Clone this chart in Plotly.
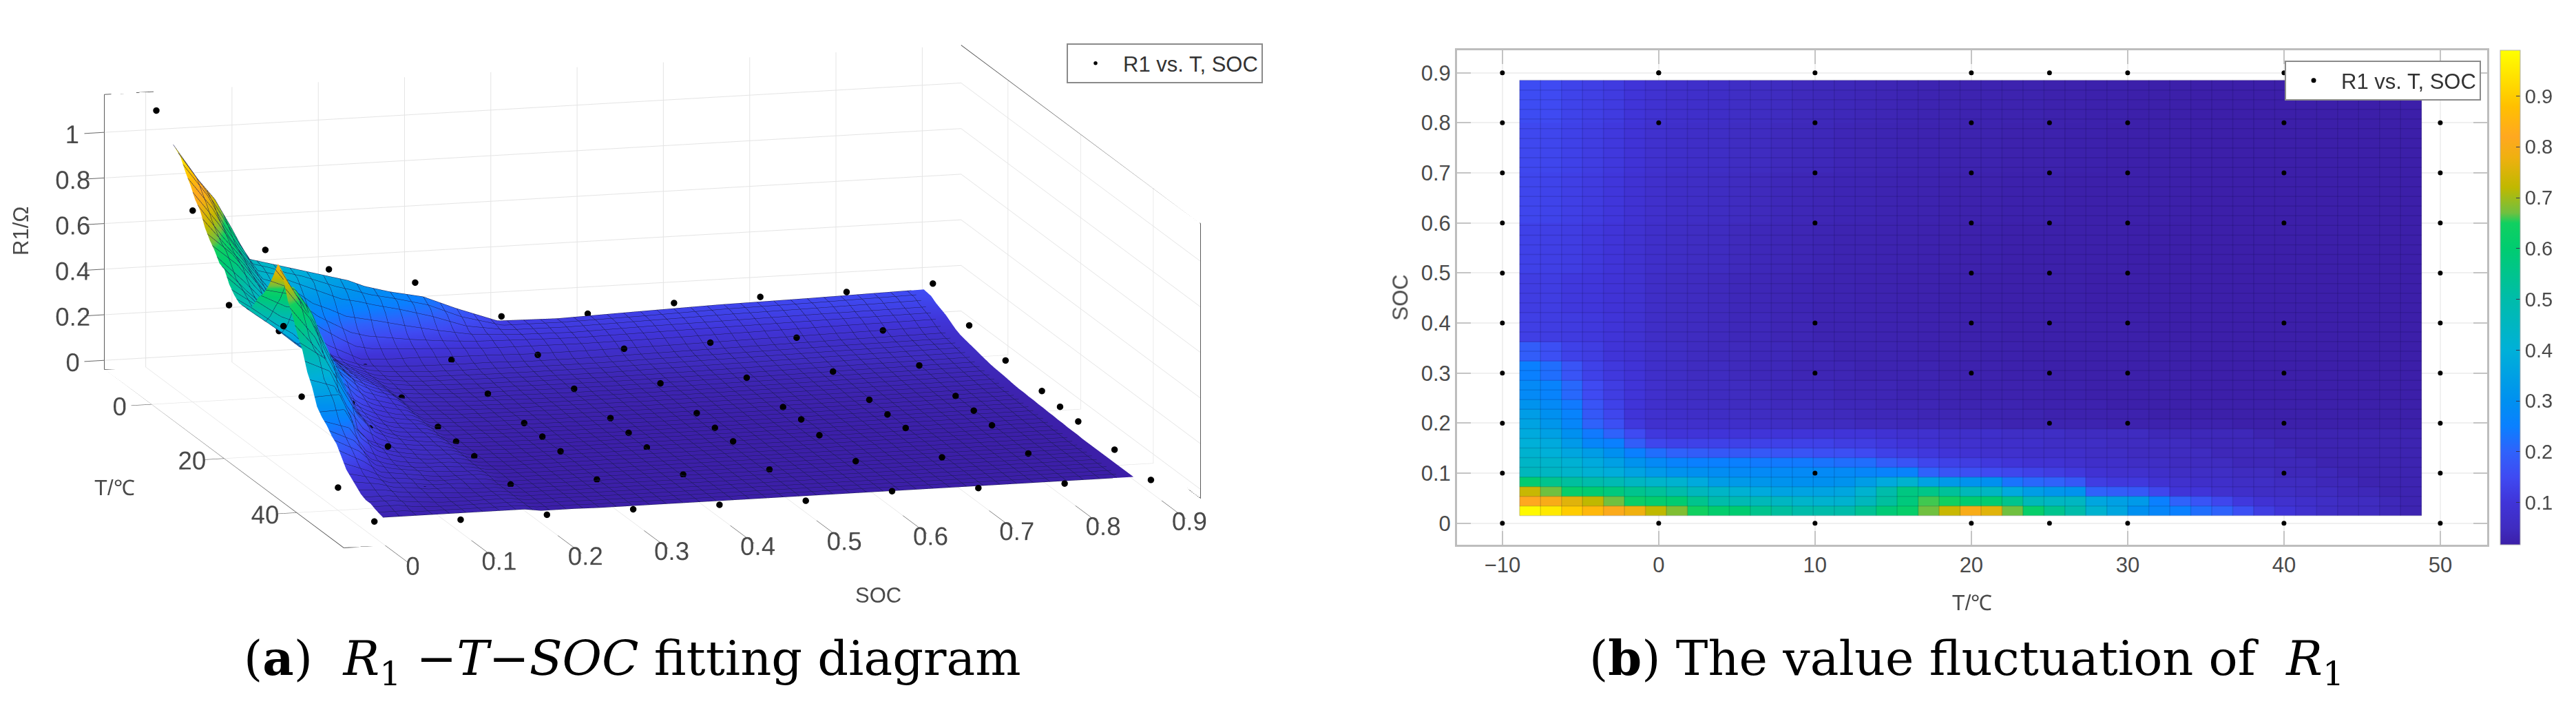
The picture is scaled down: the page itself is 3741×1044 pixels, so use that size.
import numpy as np
import plotly.graph_objects as go

W, H = 3741, 1044

# ---- measurement points (T, SOC grid) ----
POINT_T = [-10, 0, 10, 20, 25, 30, 40, 50]
POINT_SOC = [0, 0.1, 0.2, 0.3, 0.4, 0.5, 0.6, 0.7, 0.8, 0.9]
P_M10 = [1.12, .46, .38, .30, .13, .12, .145, .15, .15, .165]
P_0 = [.80, .25, .07, .08, .08, .085, .09, .09, .10, .10]
P_10 = [.504, .315, .055, .05, .05, .052, .055, .06, .065, .065]
P_20 = [.865, .17, .045, .04, .04, .04, .045, .055, .05, .05]
P_25 = [.59, .12, .04, .04, .035, .035, .05, .05, .045, .04]
P_30 = [.34, .10, .035, .035, .03, .035, .04, .05, .04, .035]
P_40 = [.06, .03, .03, .03, .03, .03, .045, .04, .035, .03]
P_50 = [.03, .016, .016, .018, .016, .012, .032, .024, .022, .016]
POINT_R1 = [P_M10, P_0, P_10, P_20, P_25, P_30, P_40, P_50]

# points left uncovered by the map in panel (b)
VIS_T = [-10]*10 + [0,0,10,20,25,30,40] + [10,20,25,30,40] + [10,20,25,30,40] + [20,25,30] + [10,20,25,30,40] + [10,20,25,30,40,10,40,25,30,40] + [50]*9 + [0,10,20,25,30,40] + [0,10,20,25,30,40]
VIS_S = [0,.1,.2,.3,.4,.5,.6,.7,.8,.9] + [.8,.9,.8,.8,.8,.8,.8] + [.7]*5 + [.6]*5 + [.5]*3 + [.4]*5 + [.3]*5 + [.1,.1,.2,.2,.2] + [0,.1,.2,.3,.4,.5,.6,.7,.8] + [0]*6 + [.9,.9,.9,.9,.9,.9]

# ---- fitted R1 table: T cell edges, SOC cell edges, values (rows bottom -> top) ----
T_FIRST, T_LAST, T_CELLS = -8.9, 48.8, 43
SOC_EDGES = [.015, .0343, .0536, .0729, .0922, .1115, .1308, .1501, .1694, .1887, .208, .2273, .2466,
             .285, .324, .362, .42, .5, .6, .7, .8, .885]
R1 = [
[.98,.95,.90,.86,.81,.78,.72,.68,.65,.61,.60,.55,.52,.50,.50,.50,.54,.59,.62,.67,.73,.80,.76,.67,.62,.55,.50,.42,.37,.30,.27,.25,.22,.20,.16,.12,.10,.08,.06,.05,.05,.04,.03],
[.82,.80,.76,.72,.67,.63,.61,.60,.55,.50,.48,.47,.45,.43,.42,.42,.46,.52,.58,.66,.65,.60,.60,.55,.47,.45,.45,.37,.35,.33,.25,.20,.17,.14,.11,.09,.08,.07,.06,.05,.05,.04,.03],
[.73,.67,.62,.60,.58,.55,.53,.50,.46,.44,.41,.38,.36,.36,.36,.37,.42,.50,.57,.56,.53,.47,.45,.38,.34,.32,.31,.20,.19,.18,.14,.10,.10,.08,.07,.06,.06,.05,.05,.04,.04,.03,.03],
[.60,.55,.52,.50,.48,.45,.43,.42,.38,.34,.33,.32,.31,.30,.30,.31,.34,.38,.42,.36,.33,.31,.30,.23,.21,.20,.18,.12,.11,.11,.09,.08,.07,.07,.06,.06,.05,.05,.04,.04,.03,.03,.03],
[.46,.45,.43,.41,.39,.36,.33,.31,.30,.29,.28,.28,.28,.28,.28,.28,.27,.26,.26,.20,.17,.16,.15,.14,.13,.12,.11,.09,.08,.08,.07,.06,.06,.06,.05,.05,.04,.04,.04,.03,.03,.03,.03],
[.44,.43,.41,.38,.35,.31,.28,.26,.25,.25,.25,.24,.24,.24,.23,.22,.22,.19,.17,.14,.13,.12,.11,.10,.09,.09,.08,.07,.07,.06,.06,.05,.05,.05,.04,.04,.04,.04,.03,.03,.03,.03,.03],
[.42,.40,.37,.34,.30,.25,.22,.20,.19,.18,.18,.18,.17,.17,.16,.16,.15,.13,.12,.11,.10,.09,.08,.08,.07,.07,.07,.06,.06,.05,.05,.05,.05,.04,.04,.04,.04,.03,.03,.03,.03,.03,.03],
[.40,.38,.33,.27,.25,.19,.14,.13,.13,.13,.13,.13,.13,.13,.13,.12,.12,.11,.10,.09,.08,.08,.07,.07,.07,.06,.06,.06,.05,.05,.05,.05,.04,.04,.04,.04,.03,.03,.03,.03,.03,.03,.03],
[.38,.35,.30,.24,.20,.15,.11,.10,.10,.10,.10,.10,.10,.10,.10,.10,.10,.09,.08,.08,.07,.07,.07,.06,.06,.06,.05,.05,.05,.05,.04,.04,.04,.04,.04,.03,.03,.03,.03,.03,.03,.03,.03],
[.36,.32,.27,.20,.16,.11,.08,.08,.075,.07,.07,.065,.06,.055,.05,.05,.045,.045,.04,.04,.04,.035,.035,.03,.03,.03,.03,.03,.025,.025,.025,.025,.025,.025,.02,.02,.02,.02,.02,.02,.02,.02,.02],
[.34,.30,.26,.18,.14,.10,.08,.07,.065,.06,.06,.055,.05,.05,.045,.045,.04,.04,.04,.035,.035,.035,.03,.03,.03,.025,.025,.025,.025,.025,.02,.02,.02,.02,.02,.02,.02,.02,.02,.02,.02,.02,.02],
[.31,.28,.24,.17,.13,.10,.075,.065,.06,.055,.05,.05,.045,.045,.045,.04,.04,.035,.035,.035,.03,.03,.03,.03,.025,.025,.025,.025,.02,.02,.02,.02,.02,.02,.02,.02,.02,.02,.02,.02,.02,.02,.02],
[.28,.26,.21,.15,.12,.10,.075,.06,.055,.05,.05,.045,.04,.04,.04,.035,.035,.035,.03,.03,.03,.025,.025,.025,.025,.022,.022,.02,.02,.02,.02,.02,.018,.018,.018,.018,.018,.018,.018,.018,.018,.018,.018],
[.25,.22,.17,.13,.11,.095,.07,.06,.05,.05,.045,.04,.04,.035,.035,.035,.03,.03,.03,.03,.025,.025,.025,.022,.022,.02,.02,.02,.02,.02,.02,.02,.018,.018,.018,.018,.018,.018,.018,.018,.018,.018,.018],
[.19,.16,.13,.12,.10,.09,.07,.06,.05,.045,.045,.04,.04,.035,.035,.03,.03,.03,.028,.025,.025,.024,.022,.022,.02,.02,.02,.02,.02,.02,.02,.02,.018,.018,.018,.018,.018,.018,.018,.018,.018,.018,.018],
[.125,.12,.115,.11,.10,.085,.065,.055,.05,.045,.04,.04,.035,.035,.03,.03,.03,.028,.026,.025,.024,.022,.022,.02,.02,.02,.02,.02,.02,.02,.018,.018,.018,.018,.018,.018,.018,.018,.018,.018,.018,.018,.018],
[.12,.12,.11,.105,.095,.085,.065,.055,.05,.045,.04,.038,.035,.033,.03,.03,.028,.026,.025,.024,.022,.022,.02,.02,.02,.02,.02,.018,.018,.018,.018,.018,.018,.018,.018,.018,.018,.018,.018,.018,.018,.018,.018],
[.13,.125,.12,.11,.10,.085,.07,.06,.055,.05,.045,.04,.038,.035,.032,.03,.03,.028,.026,.025,.024,.023,.022,.02,.02,.02,.02,.02,.02,.018,.018,.018,.018,.018,.018,.018,.018,.018,.018,.018,.018,.018,.018],
[.14,.135,.125,.115,.105,.09,.075,.065,.06,.055,.05,.045,.04,.038,.035,.033,.032,.03,.028,.026,.025,.024,.024,.022,.022,.022,.02,.02,.02,.02,.02,.02,.018,.018,.018,.018,.018,.018,.018,.018,.018,.018,.018],
[.145,.14,.13,.12,.11,.095,.08,.07,.065,.06,.055,.05,.045,.042,.04,.036,.034,.032,.03,.028,.028,.026,.026,.024,.024,.024,.022,.022,.02,.02,.02,.02,.018,.018,.018,.018,.018,.018,.018,.018,.018,.018,.018],
[.155,.15,.135,.125,.115,.10,.085,.075,.07,.065,.06,.055,.05,.045,.042,.04,.038,.035,.032,.03,.03,.028,.028,.026,.026,.024,.024,.022,.022,.02,.02,.02,.018,.018,.018,.018,.018,.018,.018,.018,.018,.018,.018],
]
for row in R1:
    assert len(row) == T_CELLS
assert len(R1) == len(SOC_EDGES) - 1

T_RANGE = [-12.9, 53.0]
SOC_RANGE = [-0.048, 0.945]
Z_RANGE = [-0.04, 1.166]
CMIN, CMAX = 0.017, 0.99

COLORS = [(.017, '#3c1fa8'), (.05, '#3f2cc0'), (.1, '#4034d8'), (.15, '#3f4af2'), (.2, '#2f62fb'),
          (.25, '#0a80ff'), (.3, '#0090f0'), (.4, '#00b0d8'), (.5, '#00bcaa'), (.6, '#00cc70'),
          (.65, '#10d060'), (.67, '#70c040'), (.72, '#c0b800'), (.78, '#f0b010'), (.82, '#ffa820'),
          (.88, '#ffc000'), (.92, '#ffd800'), (.99, '#ffff00')]
CSCALE = [[(v - CMIN) / (CMAX - CMIN), c] for v, c in COLORS]

TXT = '#4a4a4a'
FONT = 'Liberation Sans'
LAB = 31

t_edges = np.linspace(T_FIRST, T_LAST, T_CELLS + 1)
t_step = t_edges[1] - t_edges[0]
t_mid = (t_edges[:-1] + t_edges[1:]) / 2
s_edges = np.array(SOC_EDGES)
s_mid = (s_edges[:-1] + s_edges[1:]) / 2
t_nodes = t_mid.copy(); t_nodes[0] = T_FIRST; t_nodes[-1] = T_LAST
s_nodes = s_mid.copy(); s_nodes[0] = SOC_EDGES[0]; s_nodes[-1] = SOC_EDGES[-1]
s_step = (SOC_EDGES[-1] - SOC_EDGES[0]) / 45

px_t = np.repeat(POINT_T, len(POINT_SOC))
px_s = np.tile(POINT_SOC, len(POINT_T))
px_z = np.array(POINT_R1).ravel()

fig = go.Figure()

# ---------- panel (a) ----------
fig.add_trace(go.Surface(
    x=s_nodes, y=t_nodes, z=np.array(R1).T, surfacecolor=np.array(R1).T,
    colorscale=CSCALE, cmin=CMIN, cmax=CMAX, showscale=False,
    lighting=dict(ambient=1, diffuse=0, specular=0, roughness=1, fresnel=0),
    contours=dict(
        x=dict(show=True, start=SOC_EDGES[0], end=SOC_EDGES[-1], size=s_step, color='#1a1a50', width=1),
        y=dict(show=True, start=T_FIRST, end=T_LAST, size=t_step, color='#1a1a50', width=1)),
    hoverinfo='skip', scene='scene'))

xa, xb = SOC_RANGE; ya, yb = T_RANGE; za, zb = Z_RANGE
fig.add_trace(go.Scatter3d(
    x=[xa, xa, None, xa, xb, None, xb, xb, xb, None, xa, xa, xb, xb, None, xa, xb],
    y=[ya, ya, None, ya, ya, None, ya, yb, yb, None, ya, yb, yb, ya, None, ya, ya],
    z=[za, zb, None, zb, zb, None, zb, zb, za, None, za, za, za, za, None, za, za],
    mode='lines', line=dict(color='#5a5a5a', width=2), showlegend=False, hoverinfo='skip', scene='scene'))

fig.add_trace(go.Scatter3d(
    x=px_s, y=px_t, z=px_z, mode='markers', name='R1 vs. T, SOC',
    marker=dict(size=5.5, color='black'), scene='scene', legend='legend'))

def ax3(vals, rng, ticklen):
    return dict(title=dict(text=''), range=rng, tickmode='array', tickvals=vals, ticktext=[f'{v:g}' for v in vals],
                showbackground=False, showgrid=True, gridcolor='#e4e4e4', gridwidth=2,
                zeroline=False, showline=False, ticks='outside', ticklen=ticklen, tickwidth=2, tickcolor='#666666',
                tickangle=0, tickfont=dict(family=FONT, size=21, color=TXT), showspikes=False)

SOC_TICKS = [0, .1, .2, .3, .4, .5, .6, .7, .8, .9]
T3_TICKS = [0, 20, 40]
Z_TICKS = [0, .2, .4, .6, .8, 1]
EYE = 6
ZOOM = 3.0

fig.update_layout(scene=dict(
    domain=dict(x=[0, 1895 / W], y=[1 - 861 / H, 1]),
    xaxis=ax3(SOC_TICKS, SOC_RANGE, 30),
    yaxis=ax3(T3_TICKS, T_RANGE[::-1], 130),
    zaxis=ax3(Z_TICKS, Z_RANGE, 106),
    aspectmode='manual', aspectratio=dict(x=ZOOM, y=1.005 * ZOOM, z=.316 * ZOOM),
    camera=dict(projection=dict(type='orthographic'), up=dict(x=0, y=0, z=1), center=dict(x=0, y=0, z=0),
                eye=dict(x=-.262 * EYE, y=-.942 * EYE, z=.207 * EYE))))

# ---------- panel (b) ----------
fig.add_trace(go.Heatmap(x=t_edges, y=s_edges, z=R1, colorscale=CSCALE, zmin=CMIN, zmax=CMAX, xaxis='x', yaxis='y',
    hoverinfo='skip',
    colorbar=dict(x=3631 / W, xanchor='left', xpad=0, ypad=0, y=(H - 791) / H, yanchor='bottom',
                  lenmode='pixels', len=718, thicknessmode='pixels', thickness=29,
                  tickmode='array', tickvals=[.1, .2, .3, .4, .5, .6, .7, .8, .9], ticktext=['0.1', '0.2', '0.3', '0.4', '0.5', '0.6', '0.7', '0.8', '0.9'],
                  ticks='inside', ticklen=6, tickcolor='#333355',
                  tickfont=dict(family=FONT, size=LAB - 2, color=TXT), outlinecolor='#b0b0b0', outlinewidth=1)))

gx, gy = [], []
for v in t_edges:
    gx += [v, v, None]; gy += [SOC_EDGES[0], SOC_EDGES[-1], None]
for v in np.linspace(SOC_EDGES[0], SOC_EDGES[-1], 46):
    gx += [T_FIRST, T_LAST, None]; gy += [v, v, None]
fig.add_trace(go.Scatter(x=gx, y=gy, mode='lines', line=dict(color='rgba(10,10,50,0.14)', width=1.5),
                         showlegend=False, hoverinfo='skip', xaxis='x', yaxis='y'))
fig.add_trace(go.Scatter(x=VIS_T, y=VIS_S, mode='markers', name='R1 vs. T, SOC', legend='legend2',
                         marker=dict(size=7, color='black'), xaxis='x', yaxis='y'))

ax2 = dict(showline=True, linecolor='#bdbdbd', linewidth=3, mirror='ticks', ticks='inside', ticklen=20, tickcolor='#c4c4c4',
           tickwidth=2, showgrid=True, gridcolor='#f0f0f0', gridwidth=2, zeroline=False,
           tickfont=dict(family=FONT, size=LAB, color=TXT))
fig.update_layout(
    xaxis=dict(ax2, domain=[2116 / W, 3612 / W], range=T_RANGE, tickvals=[-10, 0, 10, 20, 30, 40, 50],
               title=dict(text='T/℃', standoff=28, font=dict(family=FONT, size=LAB, color=TXT))),
    yaxis=dict(ax2, domain=[(H - 791) / H, (H - 73) / H], range=[-0.043, 0.945],
               tickvals=SOC_TICKS, ticktext=[f'{v:g}' for v in SOC_TICKS],
               title=dict(text='SOC', standoff=10, font=dict(family=FONT, size=LAB, color=TXT))))

legend_common = dict(bgcolor='white', bordercolor='#8a8a8a', borderwidth=2, xanchor='left', yanchor='top',
                     itemsizing='trace', itemwidth=70, font=dict(family=FONT, size=31, color='#333333'))
fig.update_layout(
    width=W, height=H, margin=dict(l=0, r=0, t=0, b=0), paper_bgcolor='white', plot_bgcolor='white', showlegend=True,
    legend=dict(legend_common, x=1549 / W, y=1 - 63 / H),
    legend2=dict(legend_common, x=3318 / W, y=1 - 88 / H))

def note(text, x, y, size, **kw):
    fig.add_annotation(text=text, x=x / W, y=1 - y / H, xref='paper', yref='paper', showarrow=False,
                       xanchor='center', yanchor='middle',
                       font=dict(family=kw.pop('family', FONT), size=size, color=kw.pop('color', TXT)), **kw)

note('SOC', 1275, 864, LAB)
note('T/℃', 166, 708, LAB)
note('R1/Ω', 30, 336, LAB, textangle=-90)
SERIF = 'DejaVu Serif'
note('(<b>a</b>)  <i>R</i><sub>1</sub> −<i>T</i>−<i>SOC</i> fitting diagram', 918, 960, 70, family=SERIF, color='black')
note('(<b>b</b>) The value fluctuation of  <i>R</i><sub>1</sub>', 2856, 960, 70, family=SERIF, color='black')

fig.write_html("out.html", config=dict(displayModeBar=False),
               post_script="document.body.style.margin='0';document.body.style.overflow='hidden';")
